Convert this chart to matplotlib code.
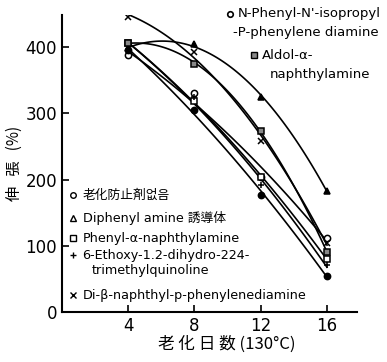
import numpy as np
import matplotlib.pyplot as plt

plt.rcParams['font.family'] = ['DejaVu Sans', 'Noto Sans CJK KR']

# aging days at 130 C
days = [4, 8, 12, 16]

# elongation (%) per antioxidant
none_ao = [388, 330, 204, 112]          # 老化防止剤없음
diphenyl = [398, 404, 324, 183]         # Diphenylamine 誘導体
phenyl_nap = [406, 318, 204, 80]        # Phenyl-a-naphthylamine
ethoxy = [403, 324, 191, 71]            # 6-Ethoxy-...
di_beta = [446, 392, 258, 104]          # Di-b-naphthyl-p-phenylenediamine
isopropyl = [395, 305, 176, 55]         # N-Phenyl-N'-isopropyl-p-phenylene diamine
aldol = [406, 375, 273, 90]             # Aldol-a-naphthylamine

yticks = [0, 100, 200, 300, 400]
xticks = [4, 8, 12, 16]

series = [
    (none_ao, 'o', 'white'),
    (diphenyl, '^', 'black'),
    (phenyl_nap, 's', 'white'),
    (ethoxy, '+', 'black'),
    (di_beta, 'x', 'black'),
    (isopropyl, 'o', 'black'),
    (aldol, 's', '#888888'),
]

fig = plt.figure(figsize=(3.87, 3.62), dpi=100)
ax = fig.add_axes([0.160, 0.138, 0.762, 0.82])

xs = np.linspace(4, 16, 100)
for vals, m, fc in series:
    # smooth curve, like the hand drawn lines
    c = np.polyfit(days, vals, 2)
    ax.plot(xs, np.polyval(c, xs), color='black', lw=1.2, zorder=2)
    ax.plot(days, vals, ls='none', marker=m, ms=4.5, mfc=fc, mec='black',
            mew=1.1, zorder=3)

ax.set_xlim(0, 17.8)
ax.set_ylim(0, 448)
ax.set_xticks(xticks)
ax.set_xticklabels(['4', '8', '12', '16'])
ax.set_yticks(yticks)
ax.tick_params(direction='in', labelsize=12, length=5, width=1.2)
for s in ['top', 'right']:
    ax.spines[s].set_visible(False)
for s in ['left', 'bottom']:
    ax.spines[s].set_linewidth(1.5)

ax.set_ylabel('伸   張   (%)', fontsize=11, family=['Noto Sans CJK KR'],
              labelpad=2)
ax.set_xlabel('老 化 日 数 (130°C)', fontsize=12, family=['Noto Sans CJK KR'],
              labelpad=4)
ax.xaxis.set_label_coords(0.56, -0.08)

# lower-left legend
tr = ax.transAxes
fs = 9.2
rows = [
    (0.394, 'o', 'white', '老化防止剤없음'),
    (0.318, '^', 'white', 'Diphenyl amine 誘導体'),
    (0.249, 's', 'white', 'Phenyl-α-naphthylamine'),
    (0.192, '+', 'black', '6-Ethoxy-1.2-dihydro-224-'),
    (0.057, 'x', 'black', 'Di-β-naphthyl-p-phenylenediamine'),
]
for y, m, fc, txt in rows:
    ax.plot([0.038], [y], transform=tr, marker=m, ms=4, mfc=fc, mec='black',
            mew=1, clip_on=False)
    ax.text(0.07, y, txt, transform=tr, fontsize=fs, va='center',
            family=['DejaVu Sans', 'Noto Sans CJK KR'])
ax.text(0.10, 0.140, 'trimethylquinoline', transform=tr, fontsize=fs,
        va='center')

# upper-right legend
ax.plot([0.57], [1.005], transform=tr, marker='o', ms=4, mfc='white',
        mec='black', mew=1.2, clip_on=False)
ax.text(0.595, 1.005, "N-Phenyl-N'-isopropyl", transform=tr, fontsize=9.5,
        va='center', clip_on=False)
ax.text(0.58, 0.943, '-P-phenylene diamine', transform=tr, fontsize=9.5,
        va='center')
ax.plot([0.65], [0.865], transform=tr, marker='s', ms=4, mfc='#888888',
        mec='black', mew=1, clip_on=False)
ax.text(0.678, 0.865, 'Aldol-α-', transform=tr, fontsize=9.5, va='center')
ax.text(0.705, 0.80, 'naphthylamine', transform=tr, fontsize=9.5,
        va='center')

fig.savefig('out.png', dpi=100)
